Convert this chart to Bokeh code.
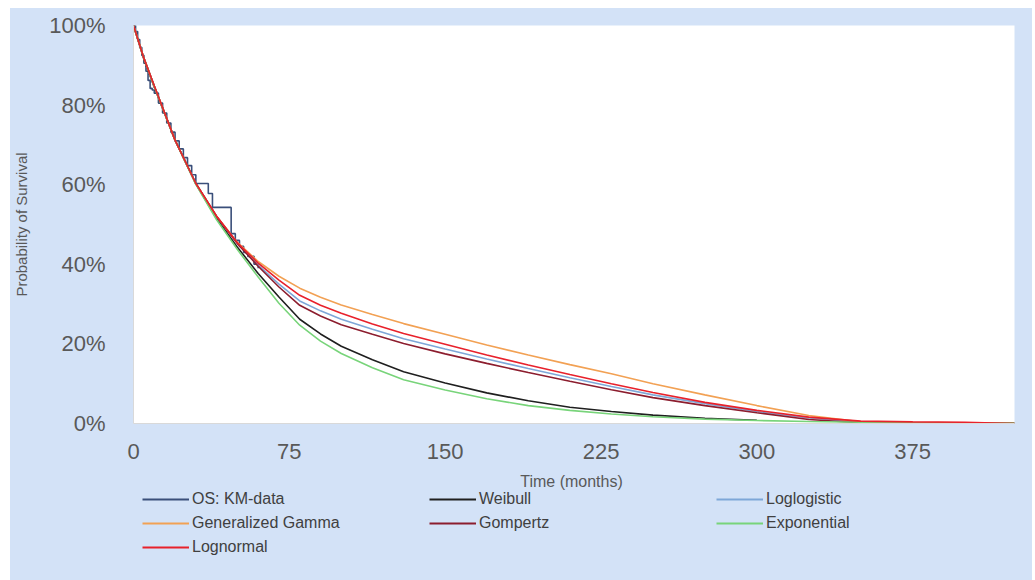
from bokeh.plotting import figure
from bokeh.models import Legend, LegendItem, FixedTicker, Range1d, Label
from bokeh.layouts import column
from bokeh.embed import file_html
from bokeh.resources import INLINE

# ---- data ----
km_t = [0, 1, 2, 3, 4, 5, 6, 7, 8, 9, 10, 12, 14, 16, 18, 20, 22, 24, 26, 28, 30, 36, 38, 47, 49, 51, 53, 55, 58, 60]
km_s = [1.0, 0.985, 0.965, 0.945, 0.925, 0.905, 0.885, 0.862, 0.842, 0.838, 0.83, 0.805, 0.78, 0.755, 0.732,
        0.71, 0.69, 0.668, 0.648, 0.625, 0.603, 0.578, 0.543, 0.477, 0.46, 0.445, 0.43, 0.42, 0.40, 0.39]

t_grid = [0, 5, 10, 20, 30, 40, 50, 60, 70, 80, 90, 100, 115, 130, 150, 170, 190, 210, 230, 250, 275, 300,
          325, 350, 375, 400, 424]

weibull = [1.0, 0.915, 0.845, 0.712, 0.602, 0.515, 0.443, 0.377, 0.318, 0.262, 0.225, 0.194, 0.16, 0.13, 0.102,
           0.077, 0.057, 0.041, 0.030, 0.021, 0.013, 0.008]
loglogistic = [1.0, 0.918, 0.848, 0.712, 0.603, 0.52, 0.453, 0.398, 0.35, 0.308, 0.283, 0.262, 0.237, 0.213, 0.187,
               0.162, 0.138, 0.115, 0.093, 0.072, 0.05, 0.03, 0.014, 0.004, 0.002, 0.001, 0.001]
gen_gamma = [1.0, 0.918, 0.848, 0.712, 0.603, 0.521, 0.455, 0.407, 0.37, 0.34, 0.317, 0.298, 0.274, 0.251, 0.224,
             0.197, 0.172, 0.148, 0.125, 0.10, 0.072, 0.045, 0.02, 0.004, 0.001, 0.001, 0.001]
gompertz = [1.0, 0.918, 0.848, 0.712, 0.603, 0.52, 0.452, 0.395, 0.343, 0.297, 0.27, 0.248, 0.224, 0.201, 0.175,
            0.151, 0.128, 0.106, 0.085, 0.065, 0.045, 0.027, 0.01, 0.002, 0.001, 0.001, 0.001]
exponential = [1.0, 0.918, 0.846, 0.712, 0.601, 0.512, 0.437, 0.368, 0.302, 0.247, 0.207, 0.176, 0.14, 0.11, 0.084,
               0.062, 0.045, 0.033, 0.024, 0.017, 0.011, 0.0075, 0.005, 0.0033, 0.0022, 0.0015, 0.001]
lognormal = [1.0, 0.918, 0.848, 0.712, 0.603, 0.521, 0.454, 0.403, 0.36, 0.322, 0.297, 0.277, 0.25, 0.226, 0.199,
             0.172, 0.147, 0.123, 0.10, 0.078, 0.053, 0.033, 0.016, 0.006, 0.004, 0.003, 0.0]

series_names = ["OS: KM-data", "Weibull", "Loglogistic", "Generalized Gamma", "Gompertz", "Exponential", "Lognormal"]
series_colors = ["#3a4f7a", "#1f1f1f", "#7ea7d8", "#f2a154", "#8c1d2e", "#78d47a", "#e8212b"]

x_ticks = [0, 75, 150, 225, 300, 375]
y_ticks = [0, 0.2, 0.4, 0.6, 0.8, 1.0]
y_tick_labels = ["0%", "20%", "40%", "60%", "80%", "100%"]
x_title = "Time (months)"
y_title = "Probability of Survival"

BG = "#d3e2f7"
FONT = "Liberation Sans"

p = figure(frame_width=881, frame_height=398, output_backend="svg", toolbar_location=None,
           x_range=Range1d(0, 424), y_range=Range1d(0, 1.0),
           min_border_left=121, min_border_right=18, min_border_top=17, min_border_bottom=47,
           border_fill_color=BG, background_fill_color="white", outline_line_color=None)

p.xgrid.grid_line_color = None
p.ygrid.grid_line_color = None

for ax in (p.xaxis[0], p.yaxis[0]):
    ax.major_tick_line_color = None
    ax.minor_tick_line_color = None
    ax.axis_line_color = "#d9d9d9"
    ax.major_label_text_font = FONT
    ax.major_label_text_font_size = "22px"
    ax.major_label_text_color = "#595959"
    ax.axis_label_text_font = FONT
    ax.axis_label_text_font_style = "normal"
    ax.axis_label_text_color = "#595959"

p.xaxis.ticker = FixedTicker(ticks=x_ticks)
p.yaxis.ticker = FixedTicker(ticks=y_ticks)
p.yaxis.major_label_overrides = {t: l for t, l in zip(y_ticks, y_tick_labels)}
p.yaxis.axis_label = y_title
p.yaxis.axis_label_text_font_size = "15px"
p.xaxis.major_label_standoff = 14
p.yaxis.major_label_standoff = 22
p.yaxis.axis_label_standoff = 16

lw = 1.6
all_t = [km_t, t_grid[:len(weibull)], t_grid, t_grid, t_grid, t_grid, t_grid]
all_s = [km_s, weibull, loglogistic, gen_gamma, gompertz, exponential, lognormal]

p.step(km_t, km_s, mode="after", line_color=series_colors[0], line_width=lw)
for tt, ss, col in zip(all_t[1:], all_s[1:], series_colors[1:]):
    p.line(tt, ss, line_color=col, line_width=lw)

# ---- legend strip below the chart (transparent; the column supplies the background) ----
# the series are re-drawn here outside the visible y-range, only to feed the legend
p2 = figure(width=1020, height=110, output_backend="svg", toolbar_location=None,
            x_axis_type=None, y_axis_type=None, x_range=Range1d(0, 424), y_range=Range1d(10, 11),
            min_border=0, border_fill_alpha=0, background_fill_alpha=0, outline_line_color=None)

items = []
for name, col, tt, ss in zip(series_names, series_colors, all_t, all_s):
    r = p2.line(tt, ss, line_color=col, line_width=2)
    items.append(LegendItem(label=name, renderers=[r]))

p2.add_layout(Label(x=438, y=99, x_units="screen", y_units="screen", text=x_title,
                    text_font=FONT, text_font_size="16px", text_color="#595959",
                    text_align="center", text_baseline="middle"))

legend = Legend(items=items, orientation="horizontal", ncols=3, location=(9, 23),
                background_fill_alpha=0, border_line_color=None,
                label_text_font=FONT, label_text_font_size="16px", label_text_color="#404040",
                glyph_width=47, glyph_height=20, label_height=20, label_standoff=3,
                label_width=233, spacing=4, padding=0, margin=0)
p2.add_layout(legend, "center")

layout = column(p, p2, spacing=0, margin=(8, 5, 0, 10), styles={"background-color": BG})
open("out.html", "w").write(file_html(layout, INLINE))
